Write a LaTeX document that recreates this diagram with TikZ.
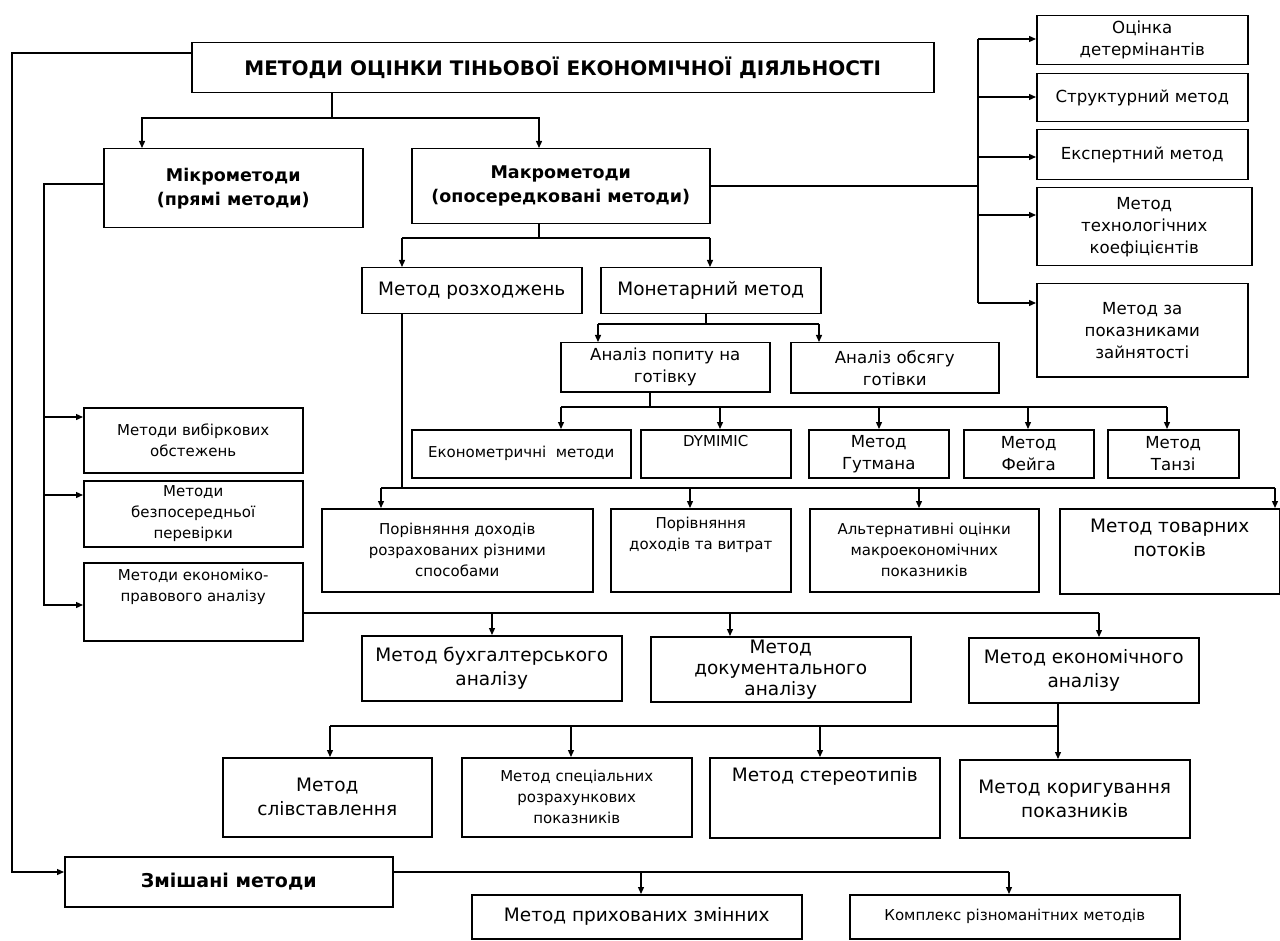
\documentclass[tikz,border=0pt]{standalone}
\usepackage{fontspec}
\setmainfont{DejaVu Sans}
\usetikzlibrary{arrows.meta}
\newcommand\fT{\fontsize{20}{24}\selectfont\bfseries}
\newcommand\fB{\fontsize{17.5}{24}\selectfont\bfseries}
\newcommand\fL{\fontsize{18.5}{24}\selectfont}
\newcommand\fM{\fontsize{16.6}{22}\selectfont}
\newcommand\fS{\fontsize{15}{21}\selectfont}
\newcommand\mybox[8]{\node[bx] (#1) at (#2,#3) {\parbox[c][\dimexpr #5pt-#3pt\relax][#6]{\dimexpr #4pt-#2pt\relax}{\centering #7#8\par}};}
\begin{document}
\begin{tikzpicture}[x=1pt,y=-1pt,
  bx/.style={draw, line width=1.5pt, inner sep=0pt, anchor=north west},
  ln/.style={line width=1.3pt},
  arr/.style={ln, -{Triangle[length=7pt,width=6pt]}}]
\useasboundingbox (0,0) rectangle (1280,941);
\fill[white] (0,0) rectangle (1280,941);
% nodes
\mybox{title}{191}{42}{933}{92}{c}{\fT}{МЕТОДИ ОЦІНКИ ТІНЬОВОЇ ЕКОНОМІЧНОЇ ДІЯЛЬНОСТІ}
\mybox{micro}{103}{148}{362}{227}{c}{\fB}{Мікрометоди\\(прямі методи)}
\mybox{macro}{411}{148}{709}{223}{c}{\fB}{Макрометоди\\(опосередковані методи)}
\mybox{r1}{1036}{15}{1247}{64}{c}{\fM}{Оцінка\\детермінантів}
\mybox{r2}{1036}{73}{1247}{121}{c}{\fM}{Структурний метод}
\mybox{r3}{1036}{129}{1247}{179}{c}{\fM}{Експертний метод}
\mybox{r4}{1036}{187}{1251}{265}{c}{\fM}{Метод\\технологічних\\коефіцієнтів}
\mybox{r5}{1036}{283}{1247}{376}{c}{\fM}{Метод за\\показниками\\зайнятості}
\mybox{rozh}{361}{267}{581}{313}{c}{\fL}{Метод розходжень}
\mybox{monet}{600}{267}{820}{313}{c}{\fL}{Монетарний метод}
\mybox{popyt}{560}{342}{769}{391}{c}{\fM}{Аналіз попиту на\\готівку}
\mybox{obsyag}{790}{342}{998}{392}{c}{\fM}{Аналіз обсягу\\готівки}
\mybox{ekon}{411}{429}{630}{477}{c}{\fS}{Економетричні\ \ методи}
\mybox{dym}{640}{429}{790}{477}{t}{\fS}{\vspace*{6pt}DYMIMIC}
\mybox{gut}{808}{429}{948}{477}{c}{\fM}{Метод\\Гутмана}
\mybox{feig}{963}{429}{1093}{477}{c}{\fM}{Метод\\Фейга}
\mybox{tanzi}{1107}{429}{1238}{477}{c}{\fM}{Метод\\Танзі}
\mybox{vyb}{83}{407}{302}{472}{c}{\fS}{Методи вибіркових\\обстежень}
\mybox{bezp}{83}{480}{302}{546}{c}{\fS}{Методи\\безпосередньої\\перевірки}
\mybox{ekpr}{83}{562}{302}{640}{t}{\fS}{\vspace*{6pt}Методи економіко-\\правового аналізу}
\mybox{por1}{321}{508}{592}{591}{c}{\fS}{Порівняння доходів\\розрахованих різними\\способами}
\mybox{por2}{610}{508}{790}{591}{t}{\fS}{\vspace*{8pt}Порівняння\\доходів та витрат}
\mybox{alt}{809}{508}{1038}{591}{c}{\fS}{Альтернативні оцінки\\макроекономічних\\показників}
\mybox{tovar}{1059}{508}{1279}{593}{t}{\fL}{\vspace*{10pt}Метод товарних\\потоків}
\mybox{buh}{361}{635}{621}{700}{c}{\fL}{Метод бухгалтерського\\аналізу}
\mybox{doc}{650}{636}{910}{701}{c}{\fontsize{18.5}{21}\selectfont}{Метод\\документального\\аналізу}
\mybox{econ}{968}{637}{1198}{702}{c}{\fL}{Метод економічного\\аналізу}
\mybox{sliv}{222}{757}{431}{836}{c}{\fL}{Метод\\слівставлення}
\mybox{spec}{461}{757}{691}{836}{c}{\fS}{Метод спеціальних\\розрахункових\\показників}
\mybox{ster}{709}{757}{939}{837}{t}{\fL}{\vspace*{10pt}Метод стереотипів}
\mybox{kor}{959}{759}{1189}{837}{c}{\fL}{Метод коригування\\показників}
\mybox{zmish}{64}{856}{392}{906}{c}{\fontsize{19}{24}\selectfont\bfseries}{Змішані методи}
\mybox{pryh}{471}{894}{801}{938}{c}{\fL}{Метод прихованих змінних}
\mybox{kompl}{849}{894}{1179}{938}{c}{\fS}{Комплекс різноманітних методів}
% title -> mixed methods
\coordinate (o1) at (12,53); \coordinate (o2) at (12,872);
\draw[arr] (title.west |- o1) -- (o1) -- (o2) -- (zmish.west |- o2);
% title -> micro / macro
\coordinate (t1) at (332,118); \coordinate (t2) at (142,118); \coordinate (t3) at (539,118);
\draw[ln] (title.south -| t1) -- (t1);
\draw[arr] (t1) -| (micro.north -| t2);
\draw[arr] (t1) -| (macro.north -| t3);
% micro -> left column
\coordinate (m1) at (44,184); \coordinate (ma) at (44,417); \coordinate (mb) at (44,495); \coordinate (mc) at (44,605);
\draw[arr] (micro.west |- m1) -- (m1) -- (mc) -- (ekpr.west |- mc);
\draw[arr] (ma) -- (vyb.west |- ma);
\draw[arr] (mb) -- (bezp.west |- mb);
% macro -> right column
\coordinate (k0) at (978,186); \coordinate (k1) at (978,39); \coordinate (k2) at (978,97);
\coordinate (k3) at (978,157); \coordinate (k4) at (978,215); \coordinate (k5) at (978,303);
\draw[ln] (macro.east |- k0) -- (k0);
\draw[ln] (k1) -- (k5);
\draw[arr] (k1) -- (r1.west |- k1);
\draw[arr] (k2) -- (r2.west |- k2);
\draw[arr] (k3) -- (r3.west |- k3);
\draw[arr] (k4) -- (r4.west |- k4);
\draw[arr] (k5) -- (r5.west |- k5);
% macro -> rozh / monet
\coordinate (d1) at (539,238); \coordinate (d2) at (402,238); \coordinate (d3) at (710,238);
\draw[ln] (macro.south -| d1) -- (d1);
\draw[ln] (d2) -- (d3);
\draw[arr] (d2) -- (rozh.north -| d2);
\draw[arr] (d3) -- (monet.north -| d3);
% rozh -> comparison row
\coordinate (e1) at (402,488); \coordinate (e2) at (381,488); \coordinate (e3) at (690,488);
\coordinate (e4) at (919,488); \coordinate (e5) at (1275,488);
\draw[ln] (rozh.south -| e1) -- (e1);
\draw[ln] (e2) -- (e5);
\draw[arr] (e2) -- (por1.north -| e2);
\draw[arr] (e3) -- (por2.north -| e3);
\draw[arr] (e4) -- (alt.north -| e4);
\draw[arr] (e5) -- (tovar.north -| e5);
% monet -> analysis
\coordinate (f1) at (706,324); \coordinate (f2) at (598,324); \coordinate (f3) at (819,324);
\draw[ln] (monet.south -| f1) -- (f1);
\draw[ln] (f2) -- (f3);
\draw[arr] (f2) -- (popyt.north -| f2);
\draw[arr] (f3) -- (obsyag.north -| f3);
% popyt -> methods row
\coordinate (g1) at (650,407); \coordinate (g2) at (561,407); \coordinate (g3) at (720,407);
\coordinate (g4) at (879,407); \coordinate (g5) at (1028,407); \coordinate (g6) at (1167,407);
\draw[ln] (popyt.south -| g1) -- (g1);
\draw[ln] (g2) -- (g6);
\draw[arr] (g2) -- (ekon.north -| g2);
\draw[arr] (g3) -- (dym.north -| g3);
\draw[arr] (g4) -- (gut.north -| g4);
\draw[arr] (g5) -- (feig.north -| g5);
\draw[arr] (g6) -- (tanzi.north -| g6);
% ekpr -> analysis methods
\coordinate (h2) at (492,613); \coordinate (h3) at (730,613); \coordinate (h4) at (1099,613);
\draw[ln] (ekpr.east |- h4) -- (h4);
\draw[arr] (h2) -- (buh.north -| h2);
\draw[arr] (h3) -- (doc.north -| h3);
\draw[arr] (h4) -- (econ.north -| h4);
% econ -> bottom row
\coordinate (i1) at (1058,726); \coordinate (i2) at (330,726); \coordinate (i3) at (571,726); \coordinate (i4) at (820,726);
\draw[arr] (econ.south -| i1) -- (kor.north -| i1);
\draw[ln] (i2) -- (i1);
\draw[arr] (i2) -- (sliv.north -| i2);
\draw[arr] (i3) -- (spec.north -| i3);
\draw[arr] (i4) -- (ster.north -| i4);
% zmish -> mixed
\coordinate (z1) at (1009,872); \coordinate (z2) at (641,872);
\draw[ln] (zmish.east |- z1) -- (z1);
\draw[arr] (z2) -- (pryh.north -| z2);
\draw[arr] (z1) -- (kompl.north -| z1);
\end{tikzpicture}
\end{document}
